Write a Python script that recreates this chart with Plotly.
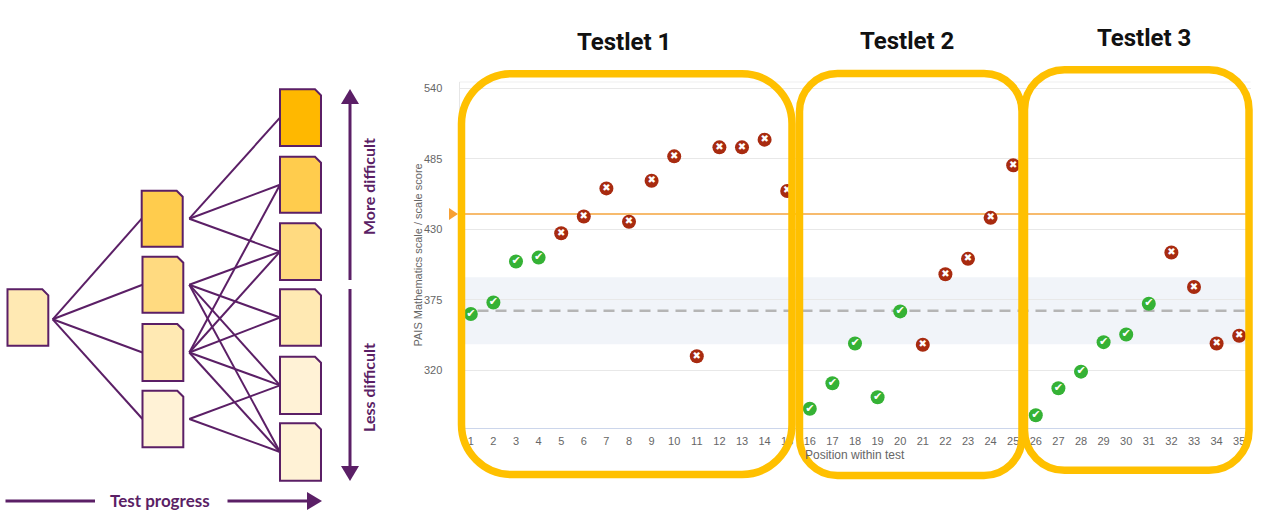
import plotly.graph_objects as go

W, H = 1268, 528

# ---------------- data ----------------
positions = list(range(1, 36))
scores = [364, 373, 405, 408, 427, 440, 462, 436, 468, 487, 331, 494, 494, 500, 460,
          290, 310, 341, 299, 366, 340, 395, 407, 439, 480,
          285, 306, 319, 342, 348, 372, 412, 385, 341, 347]
correct = [1, 1, 1, 1, 0, 0, 0, 0, 0, 0, 0, 0, 0, 0, 0,
           1, 1, 1, 1, 1, 0, 0, 0, 0, 0,
           1, 1, 1, 1, 1, 1, 0, 0, 0, 0]
y_ticks = [320, 375, 430, 485, 540]
target_score = 442
mean_score = 366.5
band_low, band_high = 340.3, 392.6
testlet_titles = ["Testlet 1", "Testlet 2", "Testlet 3"]

# ---------------- helpers (pixel -> paper) ----------------
def X(px):
    return px / W

def Y(py):
    return 1 - py / H

def pt(px, py):
    return f"{X(px):.5f},{Y(py):.5f}"

def rounded_rect(l, t, r, b, rad):
    k = 0.5523 * rad
    p = [f"M {pt(l + rad, t)}", f"L {pt(r - rad, t)}",
         f"C {pt(r - rad + k, t)} {pt(r, t + rad - k)} {pt(r, t + rad)}",
         f"L {pt(r, b - rad)}",
         f"C {pt(r, b - rad + k)} {pt(r - rad + k, b)} {pt(r - rad, b)}",
         f"L {pt(l + rad, b)}",
         f"C {pt(l + rad - k, b)} {pt(l, b - rad + k)} {pt(l, b - rad)}",
         f"L {pt(l, t + rad)}",
         f"C {pt(l, t + rad - k)} {pt(l + rad - k, t)} {pt(l + rad, t)}", "Z"]
    return " ".join(p)

def doc_path(l, t, r, b, c=6):
    return f"M {pt(l, t)} L {pt(r - c, t)} L {pt(r, t + c)} L {pt(r, b)} L {pt(l, b)} Z"

PURPLE = "#5B1F66"
YELLOW = "#FFC000"
GREEN = "#35B235"
RED = "#A82B10"

fig = go.Figure()

# ---------------- main chart ----------------
gx = [p for p, c in zip(positions, correct) if c]
gy = [s for s, c in zip(scores, correct) if c]
rx = [p for p, c in zip(positions, correct) if not c]
ry = [s for s, c in zip(scores, correct) if not c]

fig.add_trace(go.Scatter(
    x=gx, y=gy, mode="markers+text", text=["✔"] * len(gx),
    textposition="middle center",
    textfont=dict(color="white", size=11, family="DejaVu Sans"),
    marker=dict(size=14, color=GREEN, line=dict(width=0)),
    showlegend=False, hoverinfo="x+y"))
fig.add_trace(go.Scatter(
    x=rx, y=ry, mode="markers+text", text=["✖"] * len(rx),
    textposition="middle center",
    textfont=dict(color="white", size=10, family="DejaVu Sans"),
    marker=dict(size=14, color=RED, line=dict(width=0)),
    showlegend=False, hoverinfo="x+y"))

x0p, x1p = 459.5, 1250.5
top_px, bot_px = 82, 428.3

fig.update_layout(
    width=W, height=H, autosize=False,
    margin=dict(l=0, r=0, t=0, b=0),
    paper_bgcolor="white", plot_bgcolor="white",
    font=dict(family="Liberation Sans, Arial, sans-serif", color="#666666", size=11),
    xaxis=dict(domain=[X(x0p), X(x1p)], range=[0.5, 35.5],
               tickmode="array", tickvals=positions,
               ticktext=[str(p) for p in positions],
               showgrid=False, zeroline=False,
               showline=True, linecolor="#ccd6eb", linewidth=1,
               tickfont=dict(size=11, color="#666666"),
               ticks="", ticklabelstandoff=2),
    yaxis=dict(domain=[Y(bot_px), Y(top_px)], range=[274.8, 545],
               tickmode="array", tickvals=y_ticks,
               showgrid=True, gridcolor="#e8e8e8", gridwidth=1,
               zeroline=False, showline=True, linecolor="#e6e6e6",
               tickfont=dict(size=11, color="#666666"),
               ticks="", ticklabelstandoff=14),
)

shapes = []
# band and mean
shapes.append(dict(type="rect", xref="x domain", yref="y", x0=0, x1=1,
                   y0=band_low, y1=band_high, fillcolor="#f1f4f9",
                   line=dict(width=0), layer="below"))
shapes.append(dict(type="line", xref="x domain", yref="y", x0=0, x1=1,
                   y0=mean_score, y1=mean_score,
                   line=dict(color="#b5b5b5", width=2.5, dash="11px,7px"),
                   layer="below"))
# top border line
shapes.append(dict(type="line", xref="x domain", yref="y domain", x0=0, x1=1,
                   y0=1, y1=1, line=dict(color="#efefef", width=1), layer="below"))
# target line
shapes.append(dict(type="line", xref="x domain", yref="y", x0=0, x1=1,
                   y0=target_score, y1=target_score,
                   line=dict(color="#F5A53C", width=1.5), layer="below"))
# target triangle marker (pixel space)
ty = 214
shapes.append(dict(type="path", xref="paper", yref="paper",
                   path=f"M {pt(449, ty - 6)} L {pt(458, ty)} L {pt(449, ty + 6)} Z",
                   fillcolor="#F7A033", line=dict(width=0)))

# testlet boxes
boxes = [(461.5, 73.7, 792, 474.5, 50), (799.5, 73.5, 1022, 475.5, 38),
         (1024.5, 69.7, 1249, 470.3, 40)]
for (l, t, r, b, rad) in boxes:
    shapes.append(dict(type="path", xref="paper", yref="paper",
                       path=rounded_rect(l, t, r, b, rad),
                       line=dict(color=YELLOW, width=7.5), fillcolor="rgba(0,0,0,0)",
                       layer="above"))

annotations = []
title_pos = [(624, 42), (907, 41), (1144, 38.5)]
for txt, (px, py) in zip(testlet_titles, title_pos):
    annotations.append(dict(text=f"<b>{txt}</b>", x=X(px), y=Y(py), xref="paper",
                            yref="paper", showarrow=False, xanchor="center",
                            yanchor="middle",
                            font=dict(family="Roboto", size=24, color="#111111")))
annotations.append(dict(text="PAIS Mathematics scale / scale score", x=X(417.5),
                        y=Y(255), xref="paper", yref="paper", showarrow=False,
                        textangle=-90, xanchor="center", yanchor="middle",
                        font=dict(size=11, color="#666666")))
annotations.append(dict(text="Position within test", x=X(855), y=Y(455),
                        xref="paper", yref="paper", showarrow=False,
                        xanchor="center", yanchor="middle",
                        font=dict(size=12, color="#666666")))

# ---------------- left diagram ----------------
col1 = [(7.5, 289.3, 48.3, 345.7, "#FFE9B3")]
col2 = [(141.7, 190.7, 182.7, 246.7, "#FFCC4D"),
        (142.5, 256.7, 183.3, 312.7, "#FFDA80"),
        (142.5, 324.0, 183.3, 381.0, "#FFE9B3"),
        (142.5, 390.7, 183.3, 447.3, "#FFF2D6")]
col3 = [(280, 89.3, 321, 146.0, "#FFB800"),
        (280, 156.7, 321, 212.7, "#FFCC4D"),
        (280, 223.3, 321, 280.0, "#FFDA80"),
        (280, 289.3, 321, 345.7, "#FFE9B3"),
        (280, 356.7, 321, 414.0, "#FFF2D6"),
        (280, 423.3, 321, 480.7, "#FFF2D6")]

def lseg(x0, y0, x1, y1, w=2):
    return dict(type="line", xref="paper", yref="paper", x0=X(x0), y0=Y(y0),
                x1=X(x1), y1=Y(y1), line=dict(color=PURPLE, width=w))

c1_out = (52.7, 319.3)
for (l, t, r, b, _) in col2:
    shapes.append(lseg(c1_out[0], c1_out[1], l, (t + b) / 2))
links = {0: [0, 1, 2], 1: [2, 3, 4, 5], 2: [1, 2, 3, 4, 5], 3: [4, 5]}
for i, targets in links.items():
    l, t, r, b, _ = col2[i]
    ys = (t + b) / 2
    for j in targets:
        L3, T3, R3, B3, _ = col3[j]
        shapes.append(lseg(189.3, ys, L3, (T3 + B3) / 2))
for (l, t, r, b, fc) in col1 + col2 + col3:
    shapes.append(dict(type="path", xref="paper", yref="paper",
                       path=doc_path(l, t, r, b), fillcolor=fc,
                       line=dict(color=PURPLE, width=2)))

# vertical arrows
shapes.append(lseg(350, 100, 350, 280, 3))
shapes.append(lseg(350, 289, 350, 470, 3))
shapes.append(dict(type="path", xref="paper", yref="paper",
                   path=f"M {pt(350, 89)} L {pt(359, 104)} L {pt(341, 104)} Z",
                   fillcolor=PURPLE, line=dict(width=0)))
shapes.append(dict(type="path", xref="paper", yref="paper",
                   path=f"M {pt(350, 481)} L {pt(359, 466)} L {pt(341, 466)} Z",
                   fillcolor=PURPLE, line=dict(width=0)))
# horizontal arrow
shapes.append(lseg(5.5, 501, 95, 501, 3))
shapes.append(lseg(227.5, 501, 310, 501, 3))
shapes.append(dict(type="path", xref="paper", yref="paper",
                   path=f"M {pt(322, 501)} L {pt(307, 492)} L {pt(307, 510)} Z",
                   fillcolor=PURPLE, line=dict(width=0)))

dfont = dict(family="Lato", size=16, color=PURPLE)
annotations.append(dict(text="<b>More difficult</b>", x=X(368), y=Y(187),
                        xref="paper", yref="paper", showarrow=False, textangle=-90,
                        xanchor="center", yanchor="middle", font=dfont))
annotations.append(dict(text="<b>Less difficult</b>", x=X(368), y=Y(388),
                        xref="paper", yref="paper", showarrow=False, textangle=-90,
                        xanchor="center", yanchor="middle", font=dfont))
annotations.append(dict(text="<b>Test progress</b>", x=X(160), y=Y(500),
                        xref="paper", yref="paper", showarrow=False,
                        xanchor="center", yanchor="middle",
                        font=dict(family="Lato", size=17, color=PURPLE)))

fig.update_layout(shapes=shapes, annotations=annotations)

fig.write_html("out.html", config={"displayModeBar": False},
               post_script="document.body.style.margin='0';document.body.style.overflow='hidden';")
